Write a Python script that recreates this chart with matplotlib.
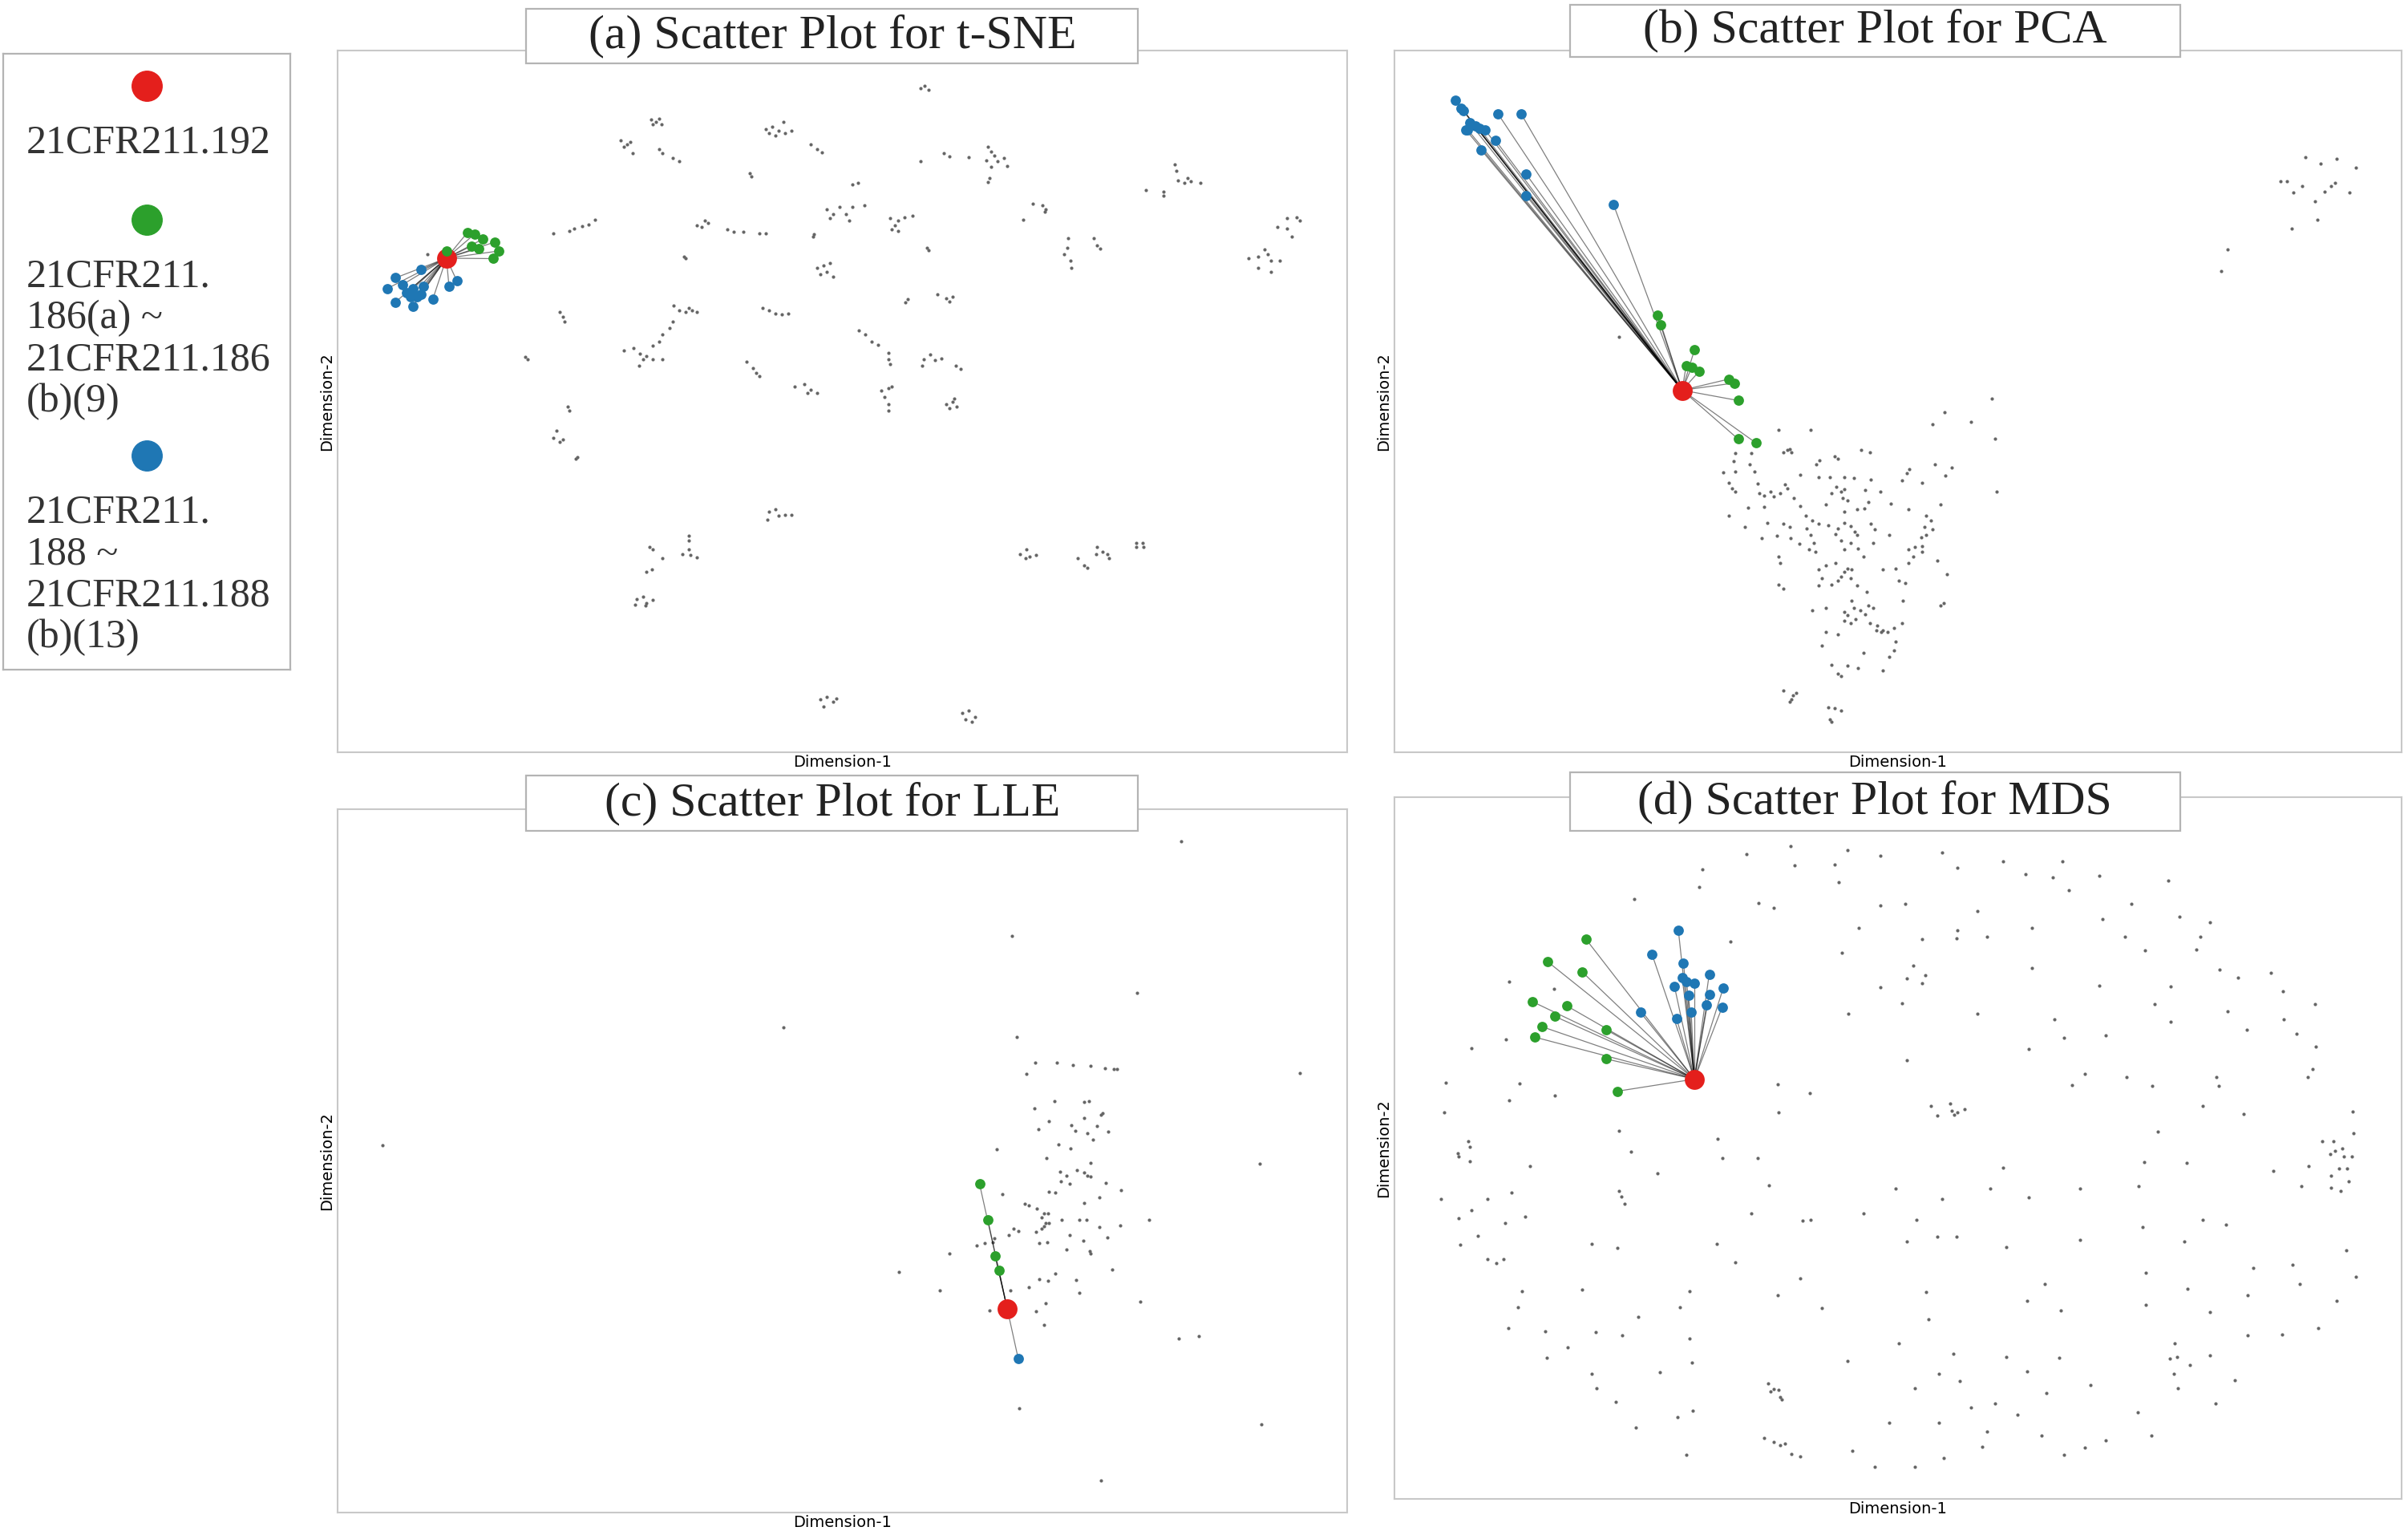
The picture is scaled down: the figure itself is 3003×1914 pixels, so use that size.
import matplotlib
matplotlib.use('Agg')
import matplotlib.pyplot as plt
from matplotlib.patches import Rectangle
import numpy as np

# ---- data (embedding coordinates, arbitrary units) ----
tsne_other = [
    (905, 85), (912, 78), (918, 88),
    (487, 155), (495, 160), (500, 152), (490, 165), (503, 165),
    (665, 175), (675, 170), (685, 180), (692, 160), (680, 190), (695, 185), (705, 180), (670, 185),
    (440, 200), (450, 210), (445, 215), (458, 230), (455, 205),
    (500, 220), (505, 230), (520, 240), (530, 247),
    (735, 210), (745, 220), (752, 228), (640, 275), (643, 282), (800, 300), (808, 296),
    (905, 248), (942, 230), (950, 237), (980, 238),
    (1010, 215), (1015, 225), (1020, 235), (1008, 245), (1025, 248), (1035, 240), (1040, 258),
    (1015, 260), (1012, 285), (1010, 293),
    (1300, 255), (1303, 268), (1305, 290), (1315, 295), (1325, 292), (1340, 295), (1320, 285),
    (1255, 312), (1283, 315), (1283, 325),
    (760, 355), (770, 365), (765, 375), (780, 350), (790, 365), (800, 350), (818, 345), (795, 380),
    (858, 375), (870, 380), (880, 372), (893, 370), (860, 400), (870, 403), (865, 390),
    (1080, 342), (1095, 345), (1100, 355), (1098, 360), (1065, 378),
    (1475, 375), (1490, 372), (1495, 380), (1460, 395), (1475, 398), (1482, 415),
    (1415, 465), (1430, 460), (1440, 445), (1445, 455), (1450, 470), (1463, 470), (1430, 485), (1450, 495),
    (335, 408), (360, 403), (367, 398), (380, 393), (390, 388), (400, 378),
    (558, 390), (570, 380), (565, 395), (575, 385),
    (605, 400), (615, 405), (630, 405), (655, 408), (665, 408),
    (740, 410), (738, 415), (915, 440), (918, 447),
    (1135, 420), (1133, 440), (1128, 455), (1138, 470), (1140, 485), (1175, 420), (1180, 435), (1185, 443),
    (538, 460), (540, 465), (140, 455),
    (745, 485), (755, 480), (760, 495), (765, 475), (770, 505), (750, 500),
    (885, 555), (882, 562), (932, 545), (945, 553), (955, 550), (950, 560),
    (345, 585), (350, 595), (353, 605),
    (522, 570), (530, 580), (540, 585), (550, 580), (558, 585), (545, 575),
    (660, 575), (670, 580), (680, 588), (690, 590), (700, 588),
    (810, 625), (820, 635), (830, 650), (840, 658), (855, 675), (855, 690), (858, 700),
    (520, 605), (515, 620), (505, 635), (500, 650), (490, 660),
    (445, 670), (460, 665), (470, 678), (475, 690), (490, 690), (505, 690), (468, 705), (480, 682),
    (292, 685), (295, 690),
    (635, 695), (645, 710), (650, 720), (655, 728),
    (910, 690), (920, 680), (928, 692), (938, 688), (908, 705), (960, 705), (968, 712),
    (710, 750), (725, 745), (735, 758), (745, 765), (730, 765),
    (845, 760), (855, 755), (860, 750), (850, 775), (855, 790), (855, 805),
    (945, 790), (955, 785), (962, 795), (950, 800), (958, 778),
    (357, 795), (360, 805),
    (340, 850), (335, 865), (345, 875), (350, 870), (372, 908), (370, 912),
    (670, 1030), (680, 1025), (685, 1040), (695, 1038), (705, 1038), (668, 1048),
    (485, 1110), (490, 1115), (505, 1135), (488, 1160), (480, 1165),
    (545, 1085), (545, 1095), (535, 1125), (548, 1128), (558, 1132), (545, 1115),
    (1060, 1125), (1070, 1115), (1075, 1130), (1085, 1128), (1068, 1135),
    (1150, 1135), (1160, 1150), (1165, 1155), (1180, 1110), (1188, 1120), (1195, 1125), (1198, 1135), (1178, 1125),
    (1240, 1100), (1250, 1100), (1240, 1110), (1252, 1110),
    (465, 1225), (475, 1220), (480, 1235), (490, 1228), (462, 1238), (478, 1240),
    (750, 1450), (760, 1445), (770, 1455), (755, 1465), (775, 1448),
    (970, 1480), (980, 1475), (990, 1490), (975, 1495), (985, 1500),
]
tsne_target = (169, 464)
tsne_186 = [(202, 406), (213, 410), (226, 421), (244, 428), (250, 448), (241, 465),
            (219, 442), (208, 437), (169, 448)]
tsne_188 = [(129, 490), (90, 508), (101, 523), (77, 532), (107, 541), (117, 532), (123, 550),
            (133, 526), (90, 562), (117, 571), (148, 555), (173, 526), (185, 514), (129, 544),
            (113, 550)]

pca_other = [
    (350, 640),
    (1418, 238), (1442, 253), (1467, 242), (1497, 262), (1380, 292), (1390, 292), (1413, 302),
    (1400, 318), (1448, 315), (1458, 303), (1465, 295), (1487, 318), (1433, 336), (1437, 378),
    (1397, 398), (1297, 445), (1287, 492),
    (598, 847), (648, 847), (857, 808), (930, 778), (838, 835), (898, 830), (935, 868), (937, 985),
    (605, 897), (612, 893), (618, 898), (615, 890), (662, 915), (657, 925), (685, 907), (690, 913),
    (727, 893), (740, 897),
    (530, 900), (555, 900), (528, 918), (553, 925), (512, 942), (530, 940), (560, 940), (632, 948),
    (660, 953), (678, 953), (700, 953), (715, 955), (742, 958), (790, 960), (798, 945), (802, 935),
    (842, 925), (858, 950), (868, 932), (822, 965),
    (520, 965), (565, 968), (608, 970), (612, 978), (688, 975), (700, 980), (733, 982), (526, 978),
    (530, 985), (568, 990), (575, 995), (585, 985), (590, 997), (600, 990), (622, 1000), (680, 990),
    (698, 1000), (705, 1005), (695, 985), (738, 1008), (756, 985),
    (550, 1022), (575, 1020), (632, 1018), (672, 1015), (700, 1030), (720, 1025), (732, 1023),
    (773, 1012), (800, 1025), (850, 1015), (520, 1040),
    (545, 1065), (580, 1055), (605, 1058), (615, 1065), (640, 1040), (650, 1050), (642, 1068),
    (660, 1058), (675, 1060), (690, 1068), (700, 1055), (710, 1062), (717, 1075), (720, 1082),
    (742, 1058), (748, 1070), (770, 1082), (745, 1100), (828, 1040), (835, 1050), (825, 1065),
    (838, 1070), (828, 1083), (820, 1088),
    (572, 1090), (595, 1085), (617, 1090), (630, 1102), (648, 1082), (653, 1100), (645, 1115),
    (655, 1120), (687, 1080), (695, 1095), (710, 1100), (700, 1115), (722, 1112), (730, 1130),
    (800, 1115), (810, 1110), (822, 1108), (808, 1130), (845, 1140), (860, 1170),
    (598, 1130), (600, 1145), (660, 1160), (672, 1150), (686, 1145), (700, 1165), (705, 1158),
    (712, 1160), (695, 1175), (665, 1180), (760, 1160), (780, 1158), (800, 1145), (822, 1120),
    (598, 1193), (605, 1203), (660, 1195), (680, 1193), (690, 1185), (710, 1180), (720, 1195),
    (735, 1210), (785, 1185), (795, 1190), (792, 1230), (850, 1240), (855, 1235),
    (650, 1250), (672, 1245), (712, 1230), (715, 1245), (725, 1250), (738, 1240), (745, 1245),
    (733, 1260), (700, 1255), (710, 1280), (718, 1270), (700, 1275), (705, 1262), (740, 1280),
    (752, 1285), (758, 1300), (768, 1300), (778, 1290), (790, 1280), (750, 1295), (760, 1295),
    (672, 1300), (690, 1305), (665, 1330), (780, 1320), (778, 1340), (770, 1355), (730, 1345),
    (680, 1372), (705, 1375), (722, 1380), (760, 1385), (690, 1392), (695, 1398),
    (605, 1430), (620, 1440), (625, 1435), (618, 1450), (615, 1455),
    (675, 1468), (685, 1470), (695, 1475), (678, 1495), (680, 1500),
]
pca_target = (448, 759)
pca_186 = [(409, 591), (415, 612), (467, 669), (454, 705), (463, 707), (475, 716),
           (521, 734), (529, 743), (535, 782), (535, 868), (563, 877)]
pca_188 = [(95, 111), (104, 129), (107, 134), (117, 161), (114, 177), (126, 168), (141, 177),
           (132, 174), (157, 200), (135, 222), (161, 141), (197, 141), (205, 276), (205, 324),
           (341, 344), (111, 177)]

lle_other = [
    (1310, 72), (1047, 283), (1242, 410), (692, 487), (1055, 507), (1495, 588), (70, 750),
    (1083, 565), (1117, 565), (1142, 570), (1170, 573), (1192, 577), (1205, 579), (1210, 580), (1070, 590),
    (1113, 650), (1160, 653), (1167, 651), (1082, 667), (1188, 677), (1186, 682), (1160, 688),
    (1105, 695), (1088, 713), (1140, 705), (1146, 717), (1180, 707), (1197, 718), (1165, 723),
    (1173, 737), (1120, 748), (1138, 757), (1024, 758), (1101, 777), (1170, 788), (1432, 790),
    (1148, 805), (1122, 808), (1132, 817), (1160, 810), (1165, 817), (1170, 818), (1124, 830),
    (1137, 835), (1193, 833), (1105, 853), (1115, 855), (1217, 850), (1032, 858), (1183, 865),
    (1160, 877), (1067, 880), (1073, 884), (1086, 890), (1097, 902), (1103, 902), (1093, 910),
    (1125, 915), (1152, 915), (1163, 915), (1260, 915), (1100, 922), (1105, 923), (1097, 930),
    (1093, 935), (1085, 943), (1057, 940), (1050, 935), (1043, 950), (1183, 932), (1215, 928),
    (1137, 950), (1195, 955), (1158, 962), (1090, 968), (1102, 965), (1020, 957), (1018, 965),
    (1005, 967), (993, 972), (950, 990), (1132, 982), (1168, 985), (1170, 990), (872, 1032),
    (1203, 1027), (1115, 1035), (1090, 1047), (1104, 1052), (1147, 1050), (1073, 1065),
    (935, 1072), (1045, 1073), (1152, 1078), (1100, 1102), (1247, 1098), (1012, 1118),
    (1085, 1120), (1097, 1150), (1307, 1180), (1337, 1175), (1058, 1335), (1435, 1372), (1186, 1497),
]
lle_target = (1040, 1113)
lle_186 = [(997, 835), (1010, 916), (1021, 996), (1027, 1028)]
lle_188 = [(1057, 1224)]

mds_other = [
    (617, 110), (705, 118), (548, 128), (757, 130), (853, 123), (623, 153), (685, 150), (877, 157),
    (948, 143), (1040, 143), (480, 162), (983, 172), (1025, 180), (1097, 175), (692, 190),
    (1205, 187), (474, 200), (1050, 207), (373, 228), (567, 237), (590, 247), (757, 242),
    (795, 238), (907, 255), (1147, 238), (1222, 267), (1270, 280), (1102, 272), (723, 292),
    (877, 297), (993, 292), (875, 315), (922, 312), (822, 318), (1137, 312), (1255, 312),
    (523, 322), (697, 348), (1168, 343), (1248, 340), (808, 377), (993, 382), (1285, 385),
    (1365, 393), (827, 398), (798, 405), (1313, 403), (822, 415), (178, 412), (248, 428),
    (757, 425), (1097, 422), (1208, 423), (1383, 433), (790, 460), (1183, 462), (1433, 463),
    (707, 483), (907, 483), (1297, 478), (1028, 497), (1385, 497), (1208, 502), (1327, 520),
    (1107, 532), (1043, 537), (1405, 528), (173, 542), (120, 560), (988, 562), (1435, 557),
    (798, 588), (1430, 608), (1422, 625), (1075, 618), (1140, 625), (1280, 625), (1283, 645),
    (1180, 645), (1055, 643), (597, 642), (647, 662), (80, 638), (195, 640), (178, 677),
    (250, 667), (77, 705), (598, 705), (835, 690), (865, 685), (868, 700), (877, 705),
    (887, 697), (845, 712), (872, 710), (1258, 690), (1322, 707), (1492, 702), (350, 746),
    (503, 763), (115, 768), (117, 782), (98, 795), (100, 802), (117, 813), (1188, 747),
    (1493, 750), (1445, 768), (1462, 768), (1475, 785), (1465, 790), (1457, 797), (1478, 803),
    (1490, 803), (1470, 830), (1483, 830), (1458, 845), (1485, 858), (1423, 825), (1368, 835),
    (1458, 873), (1473, 880), (1412, 870), (1233, 818), (1167, 815), (368, 792), (510, 807),
    (565, 807), (211, 825), (410, 840), (948, 828), (583, 868), (350, 880), (353, 893),
    (358, 908), (182, 883), (72, 897), (145, 897), (120, 922), (100, 940), (203, 938),
    (172, 952), (555, 930), (635, 947), (648, 945), (730, 930), (780, 875), (853, 897),
    (928, 875), (988, 895), (1068, 875), (1158, 870), (813, 945), (845, 982), (875, 982),
    (798, 992), (953, 1005), (1068, 990), (1165, 960), (1230, 992), (1258, 945), (1295, 955),
    (130, 980), (102, 1000), (307, 998), (347, 1007), (502, 998), (530, 1040), (145, 1032),
    (158, 1042), (170, 1032), (1482, 1012), (1337, 1052), (1398, 1045), (1170, 1063),
    (1497, 1072), (632, 1075), (1012, 1088), (1410, 1088), (198, 1103), (292, 1100),
    (460, 1103), (828, 1105), (1235, 1098), (192, 1140), (445, 1140), (597, 1113), (665, 1142),
    (985, 1125), (1037, 1147), (1170, 1135), (1328, 1113), (1270, 1150), (1467, 1125),
    (380, 1162), (832, 1167), (177, 1187), (235, 1193), (313, 1195), (355, 1202), (460, 1210),
    (1438, 1187), (1328, 1202), (1382, 1200), (785, 1220), (1215, 1220), (237, 1253),
    (270, 1230), (463, 1263), (705, 1260), (870, 1243), (952, 1250), (1035, 1252), (1207, 1255),
    (1218, 1250), (1238, 1268), (1270, 1248), (307, 1288), (413, 1285), (582, 1310), (590, 1322),
    (598, 1325), (600, 1340), (585, 1327), (603, 1345), (848, 1288), (880, 1305), (985, 1283),
    (1213, 1288), (1308, 1303), (315, 1320), (810, 1320), (1083, 1313), (1015, 1332),
    (1220, 1320), (345, 1352), (935, 1355), (897, 1363), (1278, 1355), (441, 1385), (465, 1370),
    (770, 1397), (848, 1397), (970, 1380), (1157, 1375), (376, 1408), (923, 1417), (575, 1432),
    (590, 1440), (600, 1448), (608, 1445), (1007, 1427), (1107, 1437), (1178, 1427), (618, 1467),
    (632, 1473), (455, 1470), (713, 1460), (915, 1452), (1043, 1470), (1075, 1453), (855, 1476),
    (748, 1497), (810, 1497),
]
mds_target = (467, 630)
mds_186 = [(298, 317), (238, 367), (292, 390), (215, 457), (268, 466), (250, 490), (230, 513),
           (218, 536), (330, 520), (330, 585), (347, 657)]
mds_188 = [(442, 297), (401, 351), (450, 371), (448, 403), (455, 412), (467, 415), (490, 396),
           (436, 423), (512, 426), (458, 443), (490, 440), (486, 465), (510, 470), (383, 481),
           (462, 480), (439, 494)]

titles = ["(a) Scatter Plot for t-SNE", "(b) Scatter Plot for PCA",
          "(c) Scatter Plot for LLE", "(d) Scatter Plot for MDS"]
legend_labels = ["21CFR211.192",
                 "21CFR211.\n186(a) ~\n21CFR211.186\n(b)(9)",
                 "21CFR211.\n188 ~\n21CFR211.188\n(b)(13)"]

# ---- style ----
RED = '#e41f1c'
GREEN = '#2ca02c'
BLUE = '#1f77b4'
GRAY = '#666666'
SPINE = '#c8c8c8'
SERIF = ['Liberation Serif', 'DejaVu Serif']

W, H = 3003, 1914
fig = plt.figure(figsize=(W / 100, H / 100), dpi=100)

# axes rectangles in pixels: left, top, right, bottom
boxes = [(421, 63, 1680, 938), (1739, 63, 2995, 938),
         (421, 1009, 1680, 1886), (1739, 994, 2995, 1869)]
# title frame: centre x, bottom, top (axes fraction)
title_frames = [(0.49, 0.982, 1.059), (0.477, 0.991, 1.065),
                (0.49, 0.969, 1.048), (0.477, 0.952, 1.035)]

panels = [
    (tsne_other, tsne_target, tsne_186, tsne_188),
    (pca_other, pca_target, pca_186, pca_188),
    (lle_other, lle_target, lle_186, lle_188),
    (mds_other, mds_target, mds_186, mds_188),
]

for i, (other, target, g186, g188) in enumerate(panels):
    l, t, r, b = boxes[i]
    ax = fig.add_axes([l / W, 1 - b / H, (r - l) / W, (b - t) / H])
    ax.set_facecolor('white')
    other = np.array(other)
    g186 = np.array(g186)
    g188 = np.array(g188)

    ax.scatter(other[:, 0], other[:, 1], s=9, color=GRAY, linewidths=0, zorder=2)
    for grp in (g188, g186):
        for px, py in grp:
            ax.plot([target[0], px], [target[1], py], color='black', alpha=0.5, lw=0.9, zorder=3)
    ax.scatter([target[0]], [target[1]], s=320, color=RED, linewidths=0, zorder=4)
    ax.scatter(g188[:, 0], g188[:, 1], s=85, color=BLUE, linewidths=0, zorder=5)
    ax.scatter(g186[:, 0], g186[:, 1], s=85, color=GREEN, linewidths=0, zorder=5)

    ax.set_xlim(0, 1568)
    ax.set_ylim(1568, 0)
    ax.set_xticks([])
    ax.set_yticks([])
    for sp in ax.spines.values():
        sp.set_color(SPINE)
        sp.set_linewidth(1.5)
    ax.set_xlabel('Dimension-1', fontsize=14, labelpad=2)
    ax.set_ylabel('Dimension-2', fontsize=14, labelpad=3)

    cx, y0, y1 = title_frames[i]
    fw = 0.606
    ax.add_patch(Rectangle((cx - fw / 2, y0), fw, y1 - y0, transform=ax.transAxes,
                           facecolor='white', edgecolor='#b4b4b4', lw=1.6,
                           clip_on=False, zorder=10))
    ax.text(cx, (y0 + y1) / 2, titles[i], transform=ax.transAxes, ha='center', va='center',
            fontsize=43, family=SERIF, color='#222222', zorder=11, clip_on=False)

# ---- legend panel ----
lx0, ly0, lx1, ly1 = 4, 67, 362, 835
lax = fig.add_axes([lx0 / W, 1 - ly1 / H, (lx1 - lx0) / W, (ly1 - ly0) / H])
lax.set_xlim(0, lx1 - lx0)
lax.set_ylim(ly1 - ly0, 0)
lax.set_xticks([])
lax.set_yticks([])
for sp in lax.spines.values():
    sp.set_color('#b4b4b4')
    sp.set_linewidth(1.6)

gaps = [96, 67, 0]  # space between the last text line of an entry and the next marker
y = 40
for color, label, gap in zip([RED, GREEN, BLUE], legend_labels, gaps):
    lax.plot([179], [y], marker='o', ms=27, color=color, mec=color, ls='none')
    y += 71
    lines = label.split('\n')
    for k, line in enumerate(lines):
        lax.text(29, y, line, ha='left', va='center', fontsize=36, family=SERIF, color='#333333')
        if k < len(lines) - 1:
            y += 52
    y += gap

fig.savefig('out.png', dpi=100, facecolor='white')
